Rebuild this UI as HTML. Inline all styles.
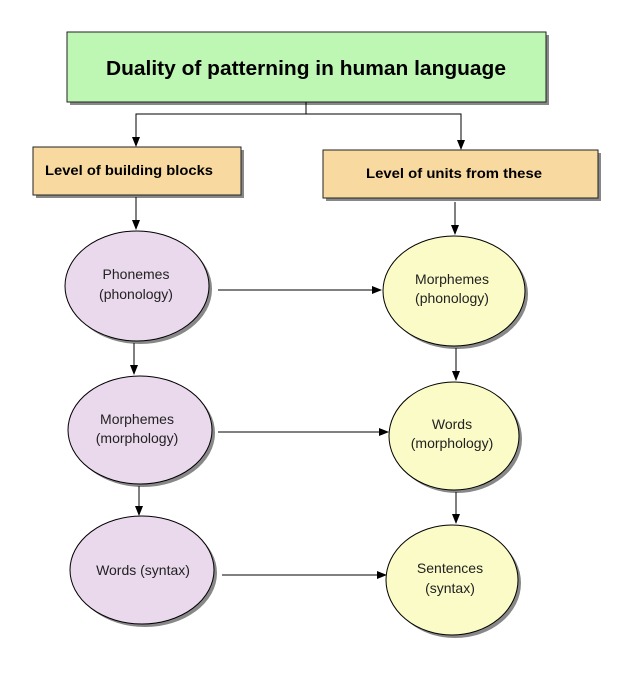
<!DOCTYPE html>
<html><head><style>body{margin:0;background:#fff}svg{display:block}</style></head><body>
<svg width="640" height="674" xmlns="http://www.w3.org/2000/svg" font-family="Liberation Sans, Arial, sans-serif">
<defs><marker id="a" markerWidth="10" markerHeight="10" refX="9" refY="5" orient="auto" markerUnits="userSpaceOnUse"><path d="M0,1 L10,5 L0,9 z" fill="#000"/></marker></defs>
<g fill="#888">
<rect x="70" y="35" width="479" height="70"/>
<rect x="36" y="150" width="208" height="48"/>
<rect x="326" y="153" width="275" height="48"/>
<ellipse cx="140" cy="289" rx="72" ry="55"/>
<ellipse cx="143" cy="433" rx="72" ry="54"/>
<ellipse cx="145" cy="573" rx="72" ry="54"/>
<ellipse cx="457" cy="294" rx="71" ry="55"/>
<ellipse cx="457" cy="439" rx="65" ry="54"/>
<ellipse cx="455" cy="583" rx="66" ry="55"/>
</g>
<rect x="67" y="32" width="479" height="70" fill="#bdf7b3" stroke="#222"/>
<rect x="33" y="147" width="208" height="48" fill="#f8d99f" stroke="#222"/>
<rect x="323" y="150" width="275" height="48" fill="#f8d99f" stroke="#222"/>
<g stroke="#000" fill="#ead8ec">
<ellipse cx="137" cy="286" rx="72" ry="55"/>
<ellipse cx="140" cy="430" rx="72" ry="54"/>
<ellipse cx="142" cy="570" rx="72" ry="54"/>
</g>
<g stroke="#000" fill="#fbfbc7">
<ellipse cx="454" cy="291" rx="71" ry="55"/>
<ellipse cx="454" cy="436" rx="65" ry="54"/>
<ellipse cx="452" cy="580" rx="66" ry="55"/>
</g>
<g stroke="#000" fill="none" stroke-width="1">
<path d="M306,102 V114 H136 V146" marker-end="url(#a)"/>
<path d="M306,114 H461 V149" marker-end="url(#a)"/>
<path d="M136,197 V229" marker-end="url(#a)"/>
<path d="M455,202 V234" marker-end="url(#a)"/>
<path d="M134,343 V374" marker-end="url(#a)"/>
<path d="M456,348 V380" marker-end="url(#a)"/>
<path d="M139,486 V515" marker-end="url(#a)"/>
<path d="M456,492 V523" marker-end="url(#a)"/>
<path d="M218,290 H381" marker-end="url(#a)"/>
<path d="M218,432 H388" marker-end="url(#a)"/>
<path d="M222,575 H386" marker-end="url(#a)"/>
</g>
<text x="106" y="75" font-size="20" font-weight="bold" textLength="400" lengthAdjust="spacingAndGlyphs">Duality of patterning in human language</text>
<text x="45" y="175" font-size="14" font-weight="bold" textLength="168" lengthAdjust="spacingAndGlyphs">Level of building blocks</text>
<text x="366" y="178" font-size="14" font-weight="bold" textLength="176" lengthAdjust="spacingAndGlyphs">Level of units from these</text>
<g font-size="14" text-anchor="middle" fill="#222">
<text x="136" y="279">Phonemes</text><text x="136" y="299">(phonology)</text>
<text x="137" y="424">Morphemes</text><text x="137" y="443">(morphology)</text>
<text x="143" y="575">Words (syntax)</text>
<text x="452" y="284">Morphemes</text><text x="452" y="303">(phonology)</text>
<text x="452" y="429">Words</text><text x="452" y="448">(morphology)</text>
<text x="450" y="573">Sentences</text><text x="450" y="593">(syntax)</text>
</g>
</svg>
</body></html>
